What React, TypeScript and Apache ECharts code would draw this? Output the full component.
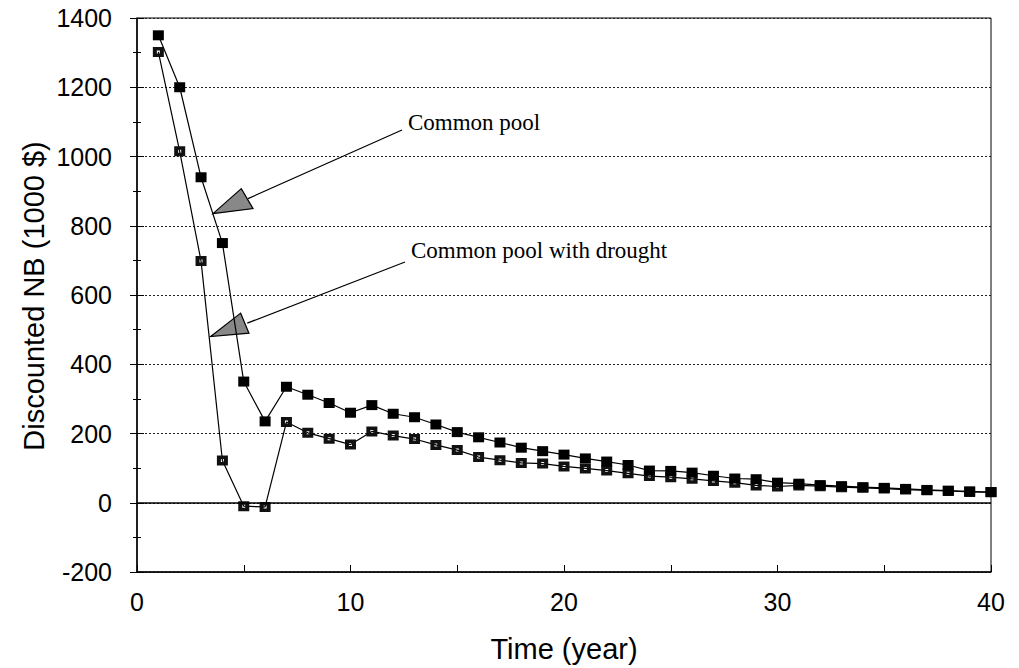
import React, { useEffect, useRef } from "react";
import * as echarts from "echarts";

const years = [1, 2, 3, 4, 5, 6, 7, 8, 9, 10, 11, 12, 13, 14, 15, 16, 17, 18, 19, 20, 21, 22, 23, 24, 25, 26, 27, 28, 29, 30, 31, 32, 33, 34, 35, 36, 37, 38, 39, 40];
const commonPool = [1350, 1200, 940, 750, 350, 235, 335, 312, 288, 260, 282, 257, 247, 226, 204, 189, 174, 159, 149, 139, 128, 119, 109, 93, 92, 87, 78, 70, 68, 58, 55, 51, 48, 45, 43, 40, 37, 35, 33, 31];
const commonPoolDrought = [1302, 1015, 698, 122, -10, -12, 233, 202, 185, 168, 206, 194, 184, 167, 152, 132, 123, 115, 113, 105, 99, 93, 85, 77, 74, 69, 63, 58, 50, 47, 50, 48, 45, 43, 41, 38, 36, 34, 31, 30];
const xLabelValues = [0, 10, 20, 30, 40];
const seriesNames = ["Common pool", "Common pool with drought"];
const arrowTips = [
  [3.56, 835],
  [3.45, 480],
];

const SANS = '"Liberation Sans", Arial, sans-serif';
const SERIF = '"Liberation Serif", "Times New Roman", serif';

export default function App() {
  const ref = useRef<HTMLDivElement>(null);
  useEffect(() => {
    if (!ref.current) return;
    const chart = echarts.init(ref.current, undefined, { renderer: "svg" });
    const yCommon = {
      type: "value",
      min: -200,
      max: 1400,
      interval: 200,
      position: "left",
    };
    chart.setOption({
      animation: false,
      backgroundColor: "#fff",
      grid: {
        left: 137,
        right: 28,
        top: 18,
        bottom: 95,
        show: true,
        borderColor: "#000",
        borderWidth: 1,
        backgroundColor: "transparent",
      },
      xAxis: {
        type: "value",
        min: 0,
        max: 40,
        interval: 5,
        axisLine: { show: true, onZero: false, lineStyle: { color: "#000", width: 1.5 } },
        axisTick: { show: true, inside: true, length: 7, lineStyle: { color: "#000" } },
        axisLabel: {
          formatter: (v: number) => (xLabelValues.includes(v) ? String(v) : ""),
          fontFamily: SANS,
          fontSize: 25,
          color: "#000",
          margin: 17,
        },
        splitLine: { show: false },
        name: "Time (year)",
        nameLocation: "middle",
        nameGap: 62,
        nameTextStyle: { fontFamily: SANS, fontSize: 29, color: "#000" },
      },
      yAxis: [
        {
          ...yCommon,
          axisLine: { show: true, onZero: false, lineStyle: { color: "#000", width: 1.5 } },
          axisTick: { show: true, inside: false, length: 7, lineStyle: { color: "#000" } },
          minorTick: { show: true, splitNumber: 2, length: 4, lineStyle: { color: "#000" } },
          axisLabel: { formatter: (v: number) => String(v), fontFamily: SANS, fontSize: 25, color: "#000", margin: 25 },
          splitLine: { show: true, lineStyle: { type: [2, 2], color: "#222", width: 1 } },
        },
        {
          ...yCommon,
          axisLine: { show: false },
          axisTick: { show: true, inside: true, length: 7, lineStyle: { color: "#000" } },
          minorTick: { show: true, splitNumber: 2, length: 4, lineStyle: { color: "#000" } },
          axisLabel: { show: false },
          splitLine: { show: false },
        },
      ],
      series: [
        {
          name: seriesNames[1],
          type: "line",
          yAxisIndex: 0,
          data: years.map((y, i) => [y, commonPoolDrought[i]]),
          symbol: "path://M0,0H11V10H0Z M4,3.5V6.5H7V3.5Z",
          symbolSize: [11, 10],
          itemStyle: { color: "#111" },
          lineStyle: { color: "#000", width: 1.2 },
          z: 3,
        },
        {
          name: seriesNames[0],
          type: "line",
          yAxisIndex: 0,
          data: years.map((y, i) => [y, commonPool[i]]),
          symbol: "rect",
          symbolSize: [11, 10],
          itemStyle: { color: "#000" },
          lineStyle: { color: "#000", width: 1.2 },
          z: 4,
          markLine: {
            silent: true,
            symbol: ["none", "none"],
            label: { show: false },
            lineStyle: { type: "solid", color: "#000", width: 1.5 },
            data: [{ yAxis: 0 }],
          },
        },
      ],
    });

    const t1 = chart.convertToPixel({ gridIndex: 0 }, arrowTips[0]) as number[];
    const t2 = chart.convertToPixel({ gridIndex: 0 }, arrowTips[1]) as number[];
    const triFill = "#888";
    chart.setOption({
      graphic: [
        {
          type: "text",
          x: 34,
          y: 296,
          rotation: Math.PI / 2,
          style: {
            text: "Discounted NB (1000 $)",
            fontFamily: SANS,
            fontSize: 29,
            fill: "#000",
            align: "center",
            verticalAlign: "middle",
          },
        },
        {
          type: "text",
          x: 408,
          y: 122,
          style: { text: seriesNames[0], fontFamily: SERIF, fontSize: 23, fill: "#000", align: "left", verticalAlign: "middle" },
        },
        {
          type: "text",
          x: 411,
          y: 250,
          style: { text: seriesNames[1], fontFamily: SERIF, fontSize: 23, fill: "#000", align: "left", verticalAlign: "middle" },
        },
        {
          type: "line",
          shape: { x1: t1[0] + 35, y1: t1[1] - 15, x2: 402, y2: 130 },
          style: { stroke: "#000", lineWidth: 1.2 },
        },
        {
          type: "polygon",
          shape: { points: [[t1[0], t1[1]], [t1[0] + 28.3, t1[1] - 25], [t1[0] + 40, t1[1] - 5]] },
          style: { fill: triFill, stroke: "#000", lineWidth: 1.2 },
        },
        {
          type: "line",
          shape: { x1: t2[0] + 36.6, y1: t2[1] - 13.4, x2: 405, y2: 262 },
          style: { stroke: "#000", lineWidth: 1.2 },
        },
        {
          type: "polygon",
          shape: { points: [[t2[0], t2[1]], [t2[0] + 30, t2[1] - 23.4], [t2[0] + 38.3, t2[1] - 3.4]] },
          style: { fill: triFill, stroke: "#000", lineWidth: 1.2 },
        },
      ],
    });
    return () => chart.dispose();
  }, []);
  return (
    <div
      ref={ref}
      style={{ position: "fixed", left: 0, top: 0, width: 1019, height: 668, background: "#fff" }}
    />
  );
}
